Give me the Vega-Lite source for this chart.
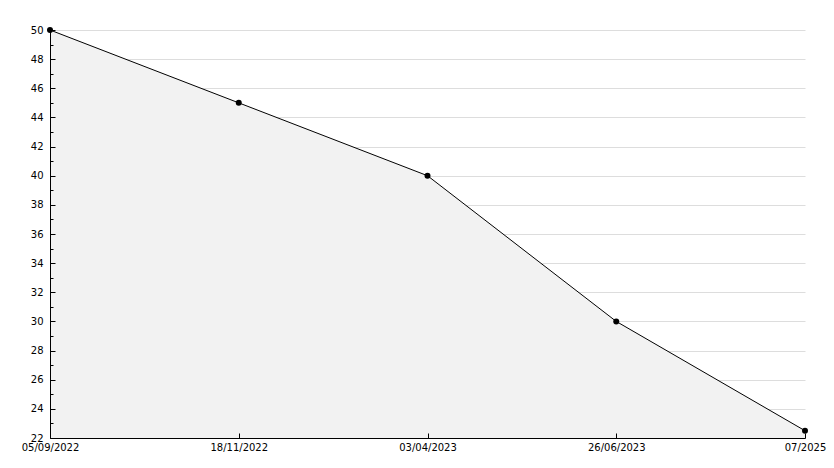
{
  "$schema": "https://vega.github.io/schema/vega-lite/v6.json",
  "width": 755,
  "height": 408,
  "autosize": {"type": "none"},
  "padding": {"left": 50, "top": 30, "right": 29, "bottom": 30},
  "background": "white",
  "config": {
    "view": {"stroke": null},
    "axis": {"labelFont": "DejaVu Sans", "labelFontSize": 10, "labelColor": "black", "domainColor": "black", "tickColor": "black"}
  },
  "data": {
    "values": [
      {"date": "05/09/2022", "value": 50},
      {"date": "18/11/2022", "value": 45},
      {"date": "03/04/2023", "value": 40},
      {"date": "26/06/2023", "value": 30},
      {"date": "07/2025", "value": 22.5}
    ]
  },
  "resolve": {"axis": {"y": "independent"}},
  "layer": [
    {
      "mark": {"type": "area", "color": "#f2f2f2"},
      "encoding": {
        "x": {
          "field": "date", "type": "ordinal", "sort": null,
          "scale": {"type": "point", "padding": 0},
          "axis": {"title": null, "labelAngle": 0, "tickSize": -5, "labelPadding": 9, "grid": false, "zindex": 1}
        },
        "y": {
          "field": "value", "type": "quantitative",
          "scale": {"domain": [22, 50], "zero": false, "nice": false},
          "axis": {
            "title": null, "orient": "left", "zindex": 0,
            "values": [22,24,26,28,30,32,34,36,38,40,42,44,46,48,50],
            "grid": true, "gridColor": "#dddddd",
            "labels": false, "ticks": false, "domain": false
          }
        },
        "y2": {"datum": 22}
      }
    },
    {
      "mark": {"type": "line", "color": "black", "strokeWidth": 1},
      "encoding": {
        "x": {"field": "date", "type": "ordinal", "sort": null},
        "y": {
          "field": "value", "type": "quantitative",
          "axis": {
            "title": null, "orient": "left", "zindex": 1,
            "values": [22,23,24,25,26,27,28,29,30,31,32,33,34,35,36,37,38,39,40,41,42,43,44,45,46,47,48,49,50],
            "labelExpr": "datum.value % 2 === 0 ? datum.label : ''",
            "tickSize": {"condition": {"test": "datum.value % 2 === 0", "value": -5}, "value": -3},
            "grid": false,
            "labelPadding": 12,
            "labelBound": false,
            "labelOverlap": false
          }
        }
      }
    },
    {
      "mark": {"type": "point", "shape": "circle", "filled": true, "color": "black", "size": 36, "opacity": 1},
      "encoding": {
        "x": {"field": "date", "type": "ordinal", "sort": null},
        "y": {"field": "value", "type": "quantitative", "axis": null}
      }
    }
  ]
}
